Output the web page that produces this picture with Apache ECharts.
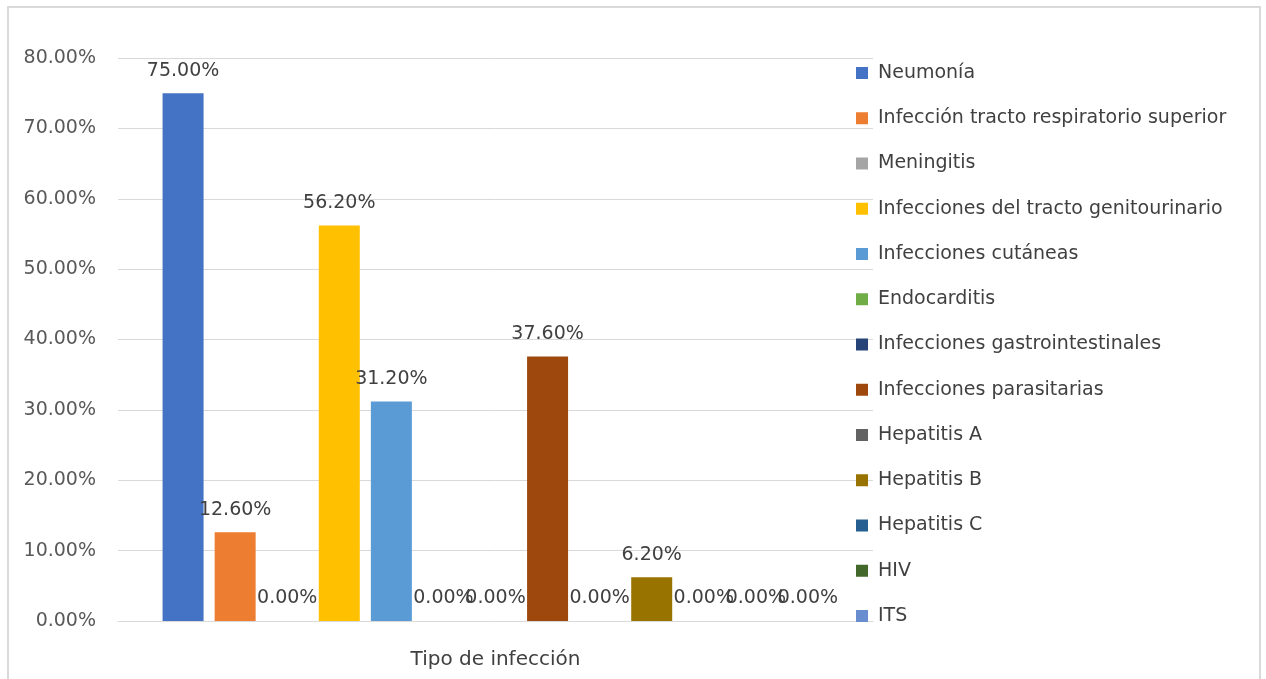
<!DOCTYPE html>
<html>
<head>
<meta charset="utf-8">
<script src="https://cdn.jsdelivr.net/npm/echarts@6/dist/echarts.min.js"></script>
<style>
  html, body { margin: 0; padding: 0; background: #ffffff; }
  #frame { position: absolute; left: 7px; top: 6px; width: 1254px; height: 700px;
           border: 2px solid #d9d9d9; box-sizing: border-box; }
  #chart { position: absolute; left: 0; top: 0; width: 1266px; height: 679px; }
</style>
</head>
<body>
<div id="frame"></div>
<div id="chart"></div>
<script>
// Single category on the x axis
const categories = ['Tipo de infección'];

// One series per infection type
const seriesNames = [
  'Neumonía',
  'Infección tracto respiratorio superior',
  'Meningitis',
  'Infecciones del tracto genitourinario',
  'Infecciones cutáneas',
  'Endocarditis',
  'Infecciones gastrointestinales',
  'Infecciones parasitarias',
  'Hepatitis A',
  'Hepatitis B',
  'Hepatitis C',
  'HIV',
  'ITS'
];

// Percentages per infection type
const seriesValues = [75.0, 12.6, 0.0, 56.2, 31.2, 0.0, 0.0, 37.6, 0.0, 6.2, 0.0, 0.0, 0.0];

// Office-style palette
const seriesColors = [
  '#4472C4', '#ED7D31', '#A5A5A5', '#FFC000', '#5B9BD5', '#70AD47', '#264478',
  '#9E480E', '#636363', '#997300', '#255E91', '#43682B', '#698ED0'
];

const yTicks = { min: 0, max: 80, interval: 10 };

const FONT = 'DejaVu Sans';
const chart = echarts.init(document.getElementById('chart'), null, { renderer: 'canvas' });

const series = seriesNames.map((name, i) => ({
  name: name,
  type: 'bar',
  data: [seriesValues[i]],
  barWidth: 41,
  barGap: '27%',
  itemStyle: { color: seriesColors[i] },
  label: {
    show: true,
    position: 'top',
    distance: 13,
    formatter: p => p.value.toFixed(2) + '%',
    fontFamily: FONT,
    fontSize: 19,
    color: '#404040'
  }
}));

chart.setOption({
  animation: false,
  backgroundColor: 'transparent',
  grid: { left: 118, right: 393, top: 58, bottom: 58, containLabel: false },
  xAxis: {
    type: 'category',
    data: categories,
    axisLine: { show: true, lineStyle: { color: '#d9d9d9', width: 1 } },
    axisTick: { show: false },
    axisLabel: { margin: 29, fontFamily: FONT, fontSize: 20, color: '#404040' }
  },
  yAxis: {
    type: 'value',
    min: yTicks.min,
    max: yTicks.max,
    interval: yTicks.interval,
    axisLine: { show: false },
    axisTick: { show: false },
    splitLine: { lineStyle: { color: '#d9d9d9', width: 1 } },
    axisLabel: {
      margin: 22,
      formatter: v => v.toFixed(2) + '%',
      fontFamily: FONT,
      fontSize: 19,
      color: '#595959'
    }
  },
  legend: {
    orient: 'vertical',
    left: 856,
    top: 62,
    icon: 'rect',
    itemWidth: 12,
    itemHeight: 12,
    itemGap: 23.25,
    padding: 0,
    textStyle: {
      fontFamily: FONT, fontSize: 19, color: '#404040', lineHeight: 22,
      padding: [0, 0, 0, 5]
    },
    data: seriesNames
  },
  series: series
});
</script>
</body>
</html>
